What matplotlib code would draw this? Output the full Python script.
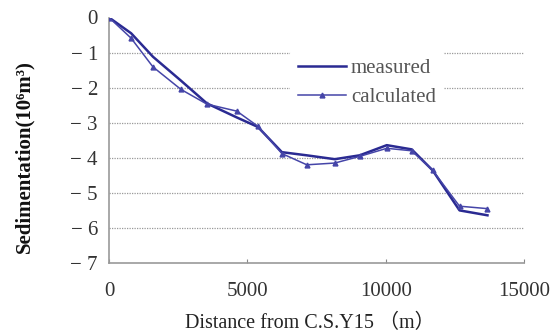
import matplotlib
matplotlib.use("Agg")
import matplotlib.pyplot as plt

distance = [0, 800, 1590, 2600, 3540, 4620, 5380, 6250, 7150, 8160, 9060, 10040, 10940, 11700, 12670, 13680]
measured = [0, -0.45, -1.12, -1.80, -2.45, -2.85, -3.12, -3.84, -3.93, -4.04, -3.93, -3.64, -3.76, -4.36, -5.50, -5.64]
calculated = [0, -0.59, -1.41, -2.05, -2.47, -2.67, -3.10, -3.88, -4.20, -4.15, -3.96, -3.73, -3.80, -4.36, -5.38, -5.45]
xticks = [0, 5000, 10000, 15000]
yticks = [0, -1, -2, -3, -4, -5, -6, -7]
grid_levels = [-1, -2, -3, -4, -5, -6]

serif = ['Liberation Serif', 'Noto Sans CJK SC', 'DejaVu Serif']

fig = plt.figure(figsize=(5.53, 3.35), dpi=100)
ax = fig.add_axes([109/553, 1-263/335, 415/553, 245.5/335])

for g in grid_levels:
    ax.axhline(g, color='#999999', lw=0.9, ls=(0, (1, 1)), zorder=1)

c_meas = '#2a2a92'
c_calc = '#4545a8'
ax.plot(distance, measured, color=c_meas, lw=1.8, zorder=3, label='measured')
ax.plot(distance, calculated, color=c_calc, lw=1.1, marker='^', ms=3.5, zorder=3, label='calculated')

ax.set_xlim(0, 15000)
ax.set_ylim(-7, 0)
ax.set_xticks(xticks)
ax.set_yticks(yticks)
ax.set_xticklabels([str(v) for v in xticks], family=serif, fontsize=15, color='#333333')
ax.set_yticklabels([str(v).replace('-', '\u2212 ') for v in yticks], family=serif, fontsize=15, color='#333333')
ax.tick_params(axis='x', direction='in', length=3, pad=14, color='#888888')
ax.tick_params(axis='y', length=0, pad=8)
for s in ['top', 'right']:
    ax.spines[s].set_visible(False)
for s in ['left', 'bottom']:
    ax.spines[s].set_color('#999999')
    ax.spines[s].set_linewidth(1.2)

leg = ax.legend(loc='upper left', bbox_to_anchor=(0.41, 0.91), prop={'family': serif, 'size': 15},
                frameon=True, facecolor='white', edgecolor='none', framealpha=1,
                handlelength=2.3, handletextpad=0.25, labelspacing=0.45, borderpad=0.4)
leg.set_zorder(5)
for t in leg.get_texts():
    t.set_color('#555555')

fig.text(310/553, 1-323/335, 'Distance from C.S.Y15 \uff08m\uff09', family=serif, fontsize=14.5,
         color='#222222', ha='center', va='center')
fig.text(24/553, 1-157/335, 'Sedimentation(10\u2076m\u00b3)', family=['Liberation Serif', 'DejaVu Serif'],
         fontweight='bold', fontsize=15, rotation=90, ha='center', va='center', color='#111111')

fig.savefig('out.png', dpi=100)
